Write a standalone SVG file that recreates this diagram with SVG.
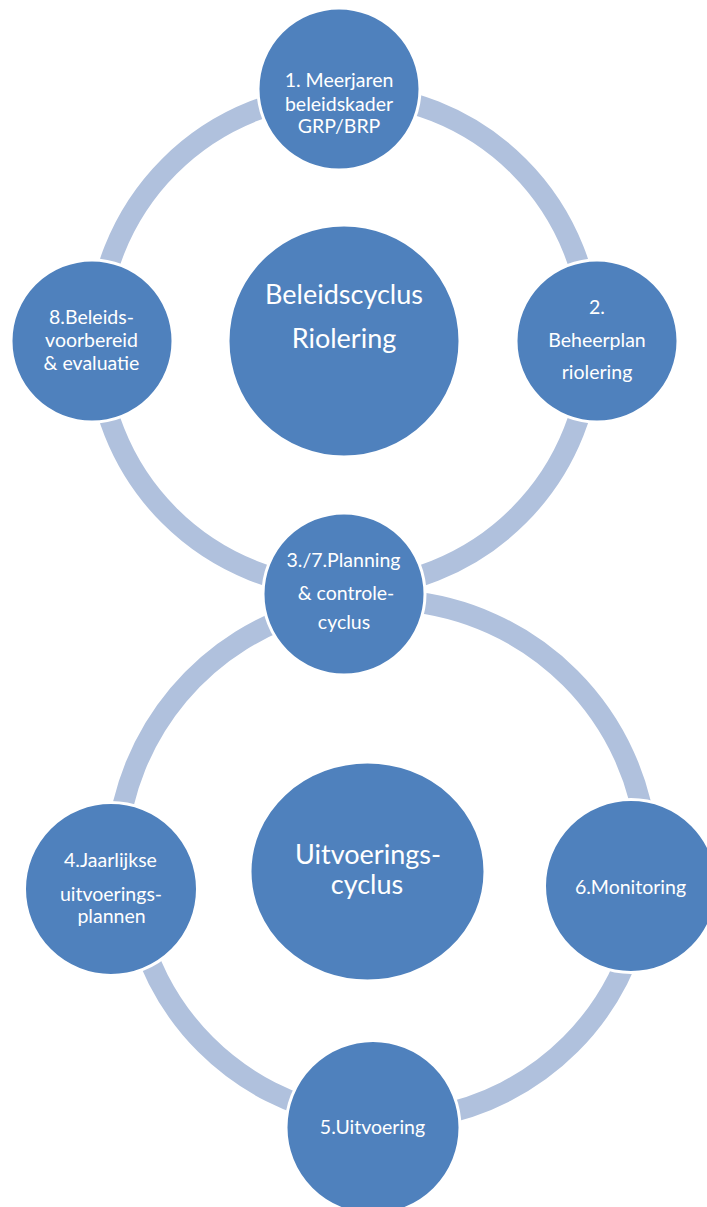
<svg xmlns="http://www.w3.org/2000/svg" width="707" height="1207" viewBox="0 0 707 1207">
  <style>
    .band { fill: none; stroke: #B0C1DD; stroke-width: 21; stroke-linecap: butt; }
    .node { fill: #4F81BD; stroke: #FFFFFF; stroke-width: 3; }
    .hub { fill: #4F81BD; stroke: #FFFFFF; stroke-width: 3; }
    .t { font-family: Lato, "Open Sans", "Liberation Sans", sans-serif; fill: #FFFFFF; text-anchor: middle; font-size: 19.5px; }
    .tb { font-family: Lato, "Open Sans", "Liberation Sans", sans-serif; fill: #FFFFFF; text-anchor: middle; font-size: 27px; }
  </style>
  <rect x="0" y="0" width="707" height="1207" fill="#FFFFFF"/>
  <g id="connectors">
    <circle class="band" cx="344" cy="341" r="247"/>
    <path class="band" d="M313.2,609.1 A266,266 0 0 0 117,842.8"/>
    <path class="band" d="M405.2,601 A266,266 0 0 1 647,842.8"/>
    <path class="band" d="M133.9,906.8 A258,258 0 0 0 343.2,1116.1"/>
    <path class="band" d="M642.1,906.8 A258,258 0 0 1 432.8,1116.1"/>
  </g>
  <g id="hub-beleid">
    <circle class="hub" cx="344" cy="341" r="116"/>
    <text class="tb" x="344" y="304">Beleidscyclus</text>
    <text class="tb" x="344" y="348">Riolering</text>
  </g>
  <g id="node-1">
    <circle class="node" cx="339" cy="89" r="81"/>
    <text class="t" x="339" y="87">1. Meerjaren</text>
    <text class="t" x="339" y="110.5">beleidskader</text>
    <text class="t" x="339" y="133">GRP/BRP</text>
  </g>
  <g id="node-2">
    <circle class="node" cx="597" cy="341" r="81"/>
    <text class="t" x="597" y="314">2.</text>
    <text class="t" x="597" y="346.5">Beheerplan</text>
    <text class="t" x="597" y="379">riolering</text>
  </g>
  <g id="node-8">
    <circle class="node" cx="92" cy="341" r="81"/>
    <text class="t" x="91.5" y="324">8.Beleids-</text>
    <text class="t" x="91.5" y="346.5">voorbereid</text>
    <text class="t" x="91.5" y="370">&amp; evaluatie</text>
  </g>
  <g id="node-3-7">
    <circle class="node" cx="344" cy="594" r="81"/>
    <text class="t" x="343.5" y="567">3./7.Planning</text>
    <text class="t" x="346" y="600">&amp; controle-</text>
    <text class="t" x="344" y="629">cyclus</text>
  </g>
  <g id="hub-uitvoering">
    <ellipse class="hub" cx="367.5" cy="871.5" rx="117.5" ry="109.5"/>
    <text class="tb" x="368" y="864">Uitvoerings-</text>
    <text class="tb" x="367" y="894">cyclus</text>
  </g>
  <g id="node-4">
    <circle class="node" cx="111" cy="889" r="86.5"/>
    <text class="t" x="110.5" y="867">4.Jaarlijkse</text>
    <text class="t" x="111" y="900.5">uitvoerings-</text>
    <text class="t" x="111.5" y="922.5">plannen</text>
  </g>
  <g id="node-6">
    <circle class="node" cx="631" cy="886" r="86.5"/>
    <text class="t" x="630.5" y="894">6.Monitoring</text>
  </g>
  <g id="node-5">
    <circle class="node" cx="373" cy="1127.5" r="87"/>
    <text class="t" x="372.5" y="1134">5.Uitvoering</text>
  </g>
</svg>
